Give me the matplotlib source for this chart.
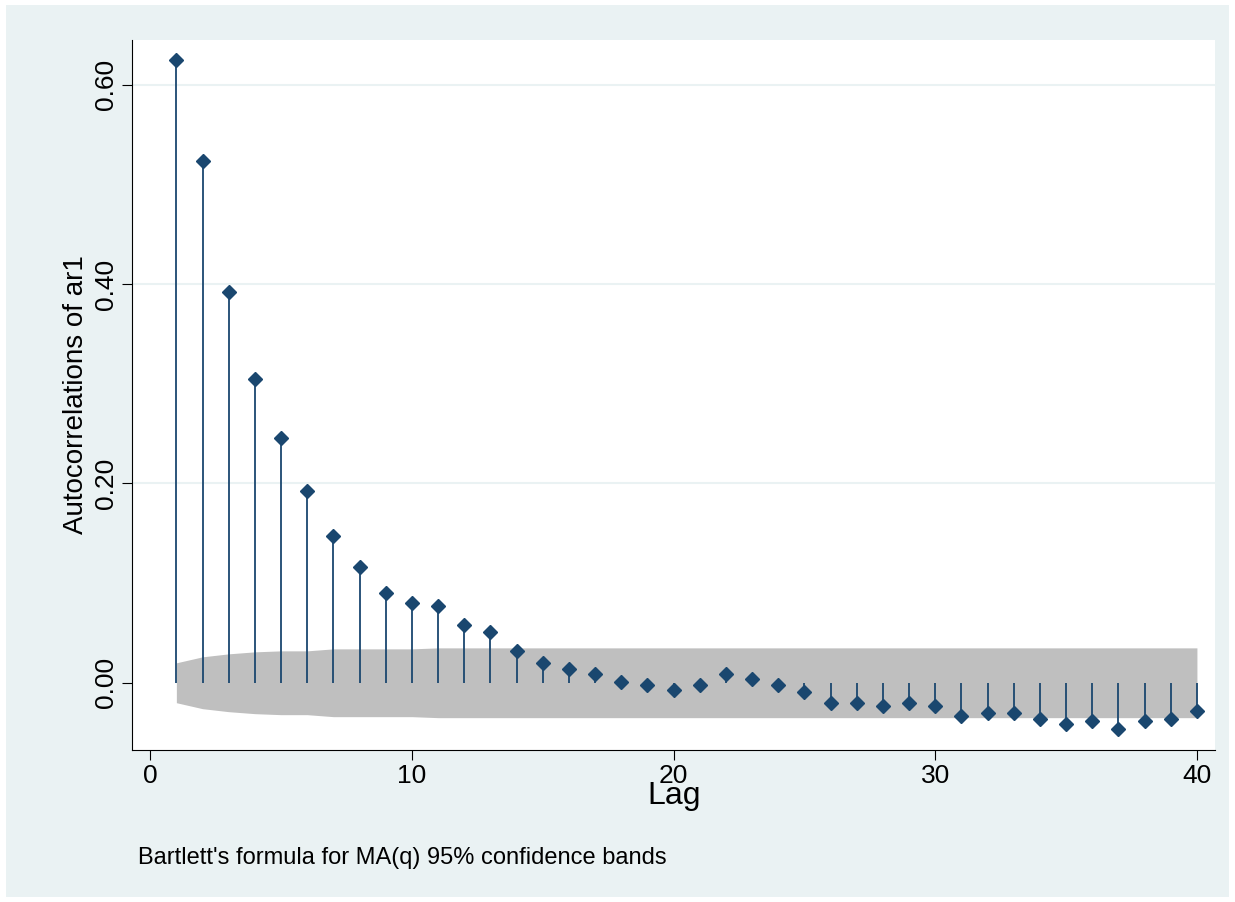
import numpy as np
import matplotlib.pyplot as plt

plt.rcParams['font.family'] = ['Liberation Sans', 'DejaVu Sans']

lags = list(range(1, 41))
acf = [0.625, 0.523, 0.392, 0.305, 0.245, 0.192, 0.147, 0.116, 0.090, 0.080,
       0.077, 0.058, 0.051, 0.032, 0.020, 0.014, 0.009, 0.001, -0.002, -0.007,
       -0.002, 0.009, 0.004, -0.002, -0.009, -0.020, -0.020, -0.023, -0.020, -0.023,
       -0.033, -0.030, -0.030, -0.036, -0.041, -0.038, -0.046, -0.038, -0.036, -0.028]
band = [0.020, 0.026, 0.029, 0.031, 0.032, 0.032, 0.034, 0.034, 0.034, 0.034,
        0.035, 0.035, 0.035, 0.035, 0.035, 0.035, 0.035, 0.035, 0.035, 0.035,
        0.035, 0.035, 0.035, 0.035, 0.035, 0.035, 0.035, 0.035, 0.035, 0.035,
        0.035, 0.035, 0.035, 0.035, 0.035, 0.035, 0.035, 0.035, 0.035, 0.035]
yticks = [0.0, 0.2, 0.4, 0.6]

navy = '#1a476f'
fig = plt.figure(figsize=(12.35, 9.02), dpi=100, facecolor='white')
bg = fig.add_axes([0.005, 0.006, 0.99, 0.988])
bg.set_facecolor('#eaf2f3')
bg.set_xticks([]); bg.set_yticks([])
for s in bg.spines.values():
    s.set_visible(False)

ax = fig.add_axes([0.107, 0.169, 0.877, 0.787])
ax.set_facecolor('white')
b = np.array(band)
ax.fill_between(lags, -b, b, color='#bfbfbf', lw=0, zorder=1)
for y in yticks[1:]:
    ax.axhline(y, color='#eaf2f3', lw=1.5, zorder=0)
ax.vlines(lags, 0, acf, color=navy, lw=1.3, zorder=2)
ax.plot(lags, acf, 'D', color=navy, ms=7, zorder=3)

ax.set_xlim(-0.69, 40.7)
ax.set_ylim(-0.067, 0.645)
ax.set_xticks([0, 10, 20, 30, 40])
ax.set_yticks(yticks)
ax.set_yticklabels(['%.2f' % v for v in yticks], rotation=90, va='center')
ax.tick_params(labelsize=19, length=7, color='black')
for s in ['top', 'right']:
    ax.spines[s].set_visible(False)
ax.set_xlabel('Lag', fontsize=23, labelpad=-5)
ax.set_ylabel('Autocorrelations of ar1', fontsize=20, labelpad=3)
fig.text(0.112, 0.042, "Bartlett's formula for MA(q) 95% confidence bands", fontsize=17)

plt.savefig('out.png', dpi=100)
